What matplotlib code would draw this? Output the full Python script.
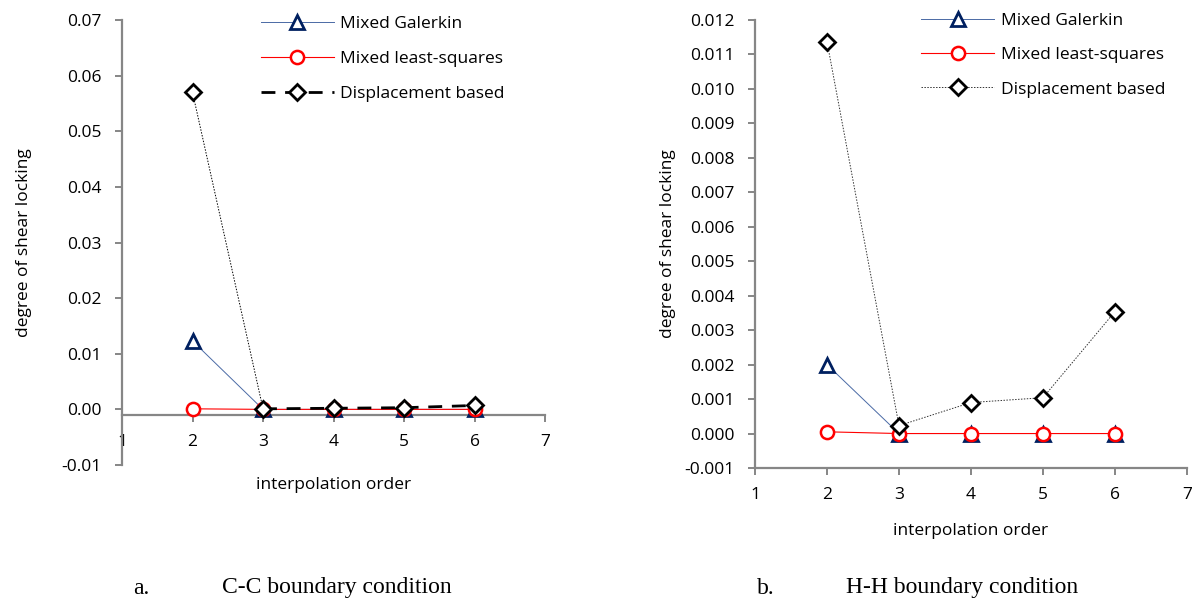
import numpy as np
import matplotlib
matplotlib.use("Agg")
import matplotlib.pyplot as plt

plt.rcParams['font.family'] = ['Open Sans', 'DejaVu Sans']

# interpolation order
order = [2, 3, 4, 5, 6]

# C-C boundary condition
cc_galerkin = [0.0123, 0.0, 0.0, 0.0, 0.0]
cc_lsq = [0.0001, 0.0, 0.0, 0.0, 0.0]
cc_disp = [0.0570, 0.0001, 0.0002, 0.0003, 0.0007]

# H-H boundary condition
hh_galerkin = [0.0020, 0.0, 0.0, 0.0, 0.0]
hh_lsq = [0.00005, 0.0, 0.0, 0.0, 0.0]
hh_disp = [0.01137, 0.00023, 0.00090, 0.00104, 0.00354]

cc_yticks = [-0.01, 0.0, 0.01, 0.02, 0.03, 0.04, 0.05, 0.06, 0.07]
hh_yticks = [-0.001, 0.0, 0.001, 0.002, 0.003, 0.004, 0.005, 0.006,
             0.007, 0.008, 0.009, 0.010, 0.011, 0.012]
xticks = [1, 2, 3, 4, 5, 6, 7]

AXC = '#868686'
NAVY = '#002060'
BLUE = '#4a6aa5'
RED = '#ff0000'
FS = 12.5


def style_axes(ax, yticks, fmt, cross):
    ax.set_xlim(1, 7)
    ax.set_ylim(yticks[0], yticks[-1])
    ax.spines['top'].set_visible(False)
    ax.spines['right'].set_visible(False)
    ax.spines['left'].set_color(AXC)
    ax.spines['bottom'].set_color(AXC)
    ax.spines['left'].set_linewidth(1.6)
    ax.spines['bottom'].set_linewidth(1.6)
    ax.spines['bottom'].set_position(('data', cross))
    ax.set_xticks(xticks)
    ax.set_yticks(yticks)
    ax.set_yticklabels([fmt.format(v) for v in yticks])
    ax.tick_params(axis='both', colors=AXC, width=1.4, length=5,
                   labelsize=FS, labelcolor='black')
    ax.tick_params(axis='x', pad=9)
    ax.tick_params(axis='y', pad=10)
    ax.patch.set_alpha(0)


fig = plt.figure(figsize=(11.95, 6.01), dpi=100)

# ---- a. C-C
ax1 = fig.add_axes([0.1021, 0.2263, 0.354, 0.7404])
style_axes(ax1, cc_yticks, '{:.2f}', -0.001)
ax1.plot(order, cc_galerkin, color=BLUE, lw=0.7, marker='^', ms=10,
         mfc='white', mec=NAVY, mew=2, label='Mixed Galerkin', zorder=3)
ax1.plot(order, cc_lsq, color=RED, lw=0.8, marker='o', ms=9.5,
         mfc='white', mec=RED, mew=1.8, label='Mixed least-squares', zorder=4)
ax1.plot(order[:2], cc_disp[:2], color='black', lw=0.7, ls=(0, (1.5, 1.5)), zorder=5)
ax1.plot(order[1:], cc_disp[1:], color='black', lw=2, ls=(0, (5, 3.5)),
         marker='D', ms=8, mfc='white', mec='black', mew=2,
         label='Displacement based', zorder=5)
ax1.plot(order[:1], cc_disp[:1], ls='none', marker='D', ms=8,
         mfc='white', mec='black', mew=2, zorder=5)
ax1.set_ylabel('degree of shear locking', fontsize=FS, labelpad=21)
ax1.set_xlabel('interpolation order', fontsize=FS)
ax1.xaxis.set_label_coords(0.5, -0.027)
ax1.legend(loc='upper left', bbox_to_anchor=(0.205, 1.0), bbox_transform=fig.transFigure,
           frameon=False, fontsize=FS, handlelength=4.2, labelspacing=1.1,
           handletextpad=0.4)

# ---- b. H-H
ax2 = fig.add_axes([0.6318, 0.2213, 0.3615, 0.7454])
style_axes(ax2, hh_yticks, '{:.3f}', -0.001)
ax2.plot(order, hh_galerkin, color=BLUE, lw=0.7, marker='^', ms=10,
         mfc='white', mec=NAVY, mew=2, label='Mixed Galerkin', zorder=3)
ax2.plot(order, hh_lsq, color=RED, lw=0.8, marker='o', ms=9.5,
         mfc='white', mec=RED, mew=1.8, label='Mixed least-squares', zorder=4)
ax2.plot(order, hh_disp, color='#333333', lw=0.7, ls=(0, (1.5, 1.5)),
         marker='D', ms=8, mfc='white', mec='black', mew=2,
         label='Displacement based', zorder=5)
ax2.set_ylabel('degree of shear locking', fontsize=FS, labelpad=6)
ax2.set_xlabel('interpolation order', fontsize=FS, labelpad=14)
ax2.legend(loc='upper left', bbox_to_anchor=(0.758, 1.005), bbox_transform=fig.transFigure,
           frameon=False, fontsize=FS, handlelength=4.2, labelspacing=1.05,
           handletextpad=0.4)

# captions
serif = ['Liberation Serif', 'DejaVu Serif']
CFS = 17
fig.text(133 / 1195, 1 - 588 / 601, 'a.', family=serif, fontsize=CFS, va='center')
fig.text(337 / 1195, 1 - 588 / 601, 'C-C boundary condition', family=serif,
         fontsize=CFS, va='center', ha='center')
fig.text(757 / 1195, 1 - 588 / 601, 'b.', family=serif, fontsize=CFS, va='center')
fig.text(962 / 1195, 1 - 588 / 601, 'H-H boundary condition', family=serif,
         fontsize=CFS, va='center', ha='center')

fig.savefig('out.png', dpi=100)
